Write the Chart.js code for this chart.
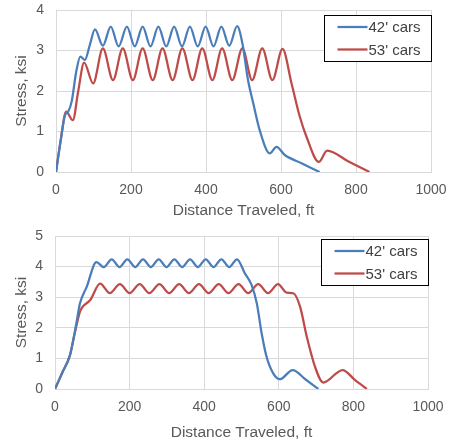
<!DOCTYPE html>
<html>
<head>
<meta charset="utf-8">
<script src="https://cdn.jsdelivr.net/npm/chart.js@4/dist/chart.umd.min.js"></script>
<style>
  body { margin: 0; background: #fff; }
  .wrap { position: absolute; left: 0; width: 454px; height: 222px; }
</style>
</head>
<body>
<div class="wrap" style="top:0"><canvas id="topChart" width="454" height="222"></canvas></div>
<div class="wrap" style="top:222px"><canvas id="bottomChart" width="454" height="222"></canvas></div>
<script>
// Top chart
const top42X = [0, 12, 24, 33, 42, 54, 65, 77, 90, 104, 125, 146, 167, 189, 210, 231, 252, 273, 294, 315, 336, 357, 378, 399, 420, 441, 462, 483, 497, 512, 526, 543, 570, 588, 610, 656, 703];
const top42Y = [0, 0.75, 1.4, 1.5, 1.75, 2.48, 2.85, 2.77, 3.13, 3.52, 3.12, 3.59, 3.1, 3.59, 3.1, 3.59, 3.1, 3.59, 3.1, 3.59, 3.1, 3.59, 3.1, 3.59, 3.1, 3.59, 3.12, 3.6, 3.18, 2.27, 1.7, 1.04, 0.46, 0.62, 0.42, 0.21, 0];
const top53X = [0, 12, 27, 45, 59, 75, 99, 125, 152, 178, 205, 231, 258, 284, 311, 337, 364, 390, 417, 443, 470, 497, 523, 550, 577, 604, 628, 650, 668, 701, 723, 780, 836];
const top53Y = [0, 0.75, 1.49, 1.28, 1.98, 2.7, 2.19, 3.05, 2.27, 3.05, 2.27, 3.05, 2.27, 3.05, 2.27, 3.05, 2.27, 3.05, 2.27, 3.05, 2.27, 3.05, 2.27, 3.05, 2.27, 3.04, 2.19, 1.37, 0.87, 0.25, 0.53, 0.26, 0];

// Bottom chart
const bot42X = [0, 20, 40, 49, 58, 67, 85, 111, 131, 152, 173, 194, 215, 236, 257, 278, 299, 320, 341, 362, 383, 404, 425, 446, 467, 488, 509, 527, 541, 554, 567, 585, 603, 637, 672, 706];
const bot42Y = [0, 0.55, 1.1, 1.6, 2.2, 2.8, 3.34, 4.15, 3.98, 4.24, 3.98, 4.24, 3.98, 4.24, 3.98, 4.24, 3.98, 4.24, 3.98, 4.24, 3.98, 4.24, 3.98, 4.24, 3.98, 4.24, 3.78, 3.4, 2.8, 1.82, 1.06, 0.51, 0.32, 0.62, 0.31, 0];
const bot53X = [0, 20, 40, 49, 58, 67, 75, 94, 121, 147, 174, 200, 227, 253, 280, 306, 333, 359, 386, 412, 439, 465, 492, 518, 545, 571, 598, 621, 639, 657, 675, 697, 719, 771, 803, 836];
const bot53Y = [0, 0.55, 1.1, 1.6, 2.1, 2.53, 2.7, 2.9, 3.44, 3.13, 3.43, 3.13, 3.43, 3.13, 3.43, 3.13, 3.43, 3.13, 3.43, 3.13, 3.43, 3.13, 3.43, 3.13, 3.43, 3.13, 3.43, 3.15, 3.13, 2.69, 1.71, 0.73, 0.21, 0.62, 0.31, 0];

const seriesLabels = ["42' cars", "53' cars"];
const xTicks = [0, 200, 400, 600, 800, 1000];

const FONT = "'Liberation Sans', Arial, sans-serif";
const BLUE = "#4a7ebb";
const RED = "#be4b48";
const GRID = "#d9d9d9";
const TEXT = "#595959";

function toPoints(xs, ys) {
  return xs.map((x, i) => ({ x: x, y: ys[i] }));
}

// legend drawn as a boxed overlay inside the plot, like the original
const boxLegend = {
  id: "boxLegend",
  afterDraw(chart, args, opts) {
    const ctx = chart.ctx;
    const area = chart.chartArea;
    const left = Math.round(area.right - opts.width) + 0.5;
    const top = Math.round(area.top + opts.offsetY) + 0.5;
    ctx.save();
    ctx.fillStyle = "#fff";
    ctx.fillRect(left, top, opts.width, opts.height);
    ctx.strokeStyle = "#000";
    ctx.lineWidth = 1;
    ctx.strokeRect(left, top, opts.width, opts.height);
    ctx.font = "15px " + FONT;
    ctx.textBaseline = "middle";
    chart.data.datasets.forEach((ds, i) => {
      const y = top + 11.5 + i * 22.5;
      ctx.strokeStyle = ds.borderColor;
      ctx.lineWidth = 2.25;
      ctx.beginPath();
      ctx.moveTo(left + 13, y);
      ctx.lineTo(left + 43, y);
      ctx.stroke();
      ctx.fillStyle = "#404040";
      ctx.fillText(ds.label, left + 44, y + 1);
    });
    ctx.restore();
  },
};

function makeChart(id, d42, d53, yMax, pad, yWidth, xHeight, legendOffset) {
  const ctx = document.getElementById(id).getContext("2d");
  return new Chart(ctx, {
    type: "line",
    data: {
      datasets: [
        {
          label: seriesLabels[0],
          data: d42,
          borderColor: BLUE,
          borderWidth: 2.25,
          pointRadius: 0,
          cubicInterpolationMode: "monotone",
        },
        {
          label: seriesLabels[1],
          data: d53,
          borderColor: RED,
          borderWidth: 2.25,
          pointRadius: 0,
          cubicInterpolationMode: "monotone",
        },
      ],
    },
    options: {
      responsive: false,
      animation: false,
      layout: { padding: pad },
      plugins: {
        legend: { display: false },
        tooltip: { enabled: false },
        boxLegend: { width: 107, height: 46, offsetY: legendOffset },
      },
      scales: {
        x: {
          type: "linear",
          min: 0,
          max: 1000,
          afterBuildTicks: (scale) => {
            scale.ticks = xTicks.map((v) => ({ value: v }));
          },
          afterFit: (scale) => {
            scale.height = xHeight;
            scale.paddingLeft = 0;
            scale.paddingRight = 0;
          },
          grid: { color: GRID, drawTicks: false },
          border: { color: GRID },
          ticks: {
            color: TEXT,
            font: { family: FONT, size: 14 },
            padding: 10,
            maxRotation: 0,
            callback: (v) => String(v),
          },
          title: {
            display: true,
            text: "Distance Traveled, ft",
            color: TEXT,
            font: { family: FONT, size: 15.5 },
            padding: { top: 1.5, bottom: 1.5 },
          },
        },
        y: {
          min: 0,
          max: yMax,
          ticks: {
            stepSize: 1,
            color: TEXT,
            font: { family: FONT, size: 14 },
            padding: 12,
            callback: (v) => String(v),
          },
          afterFit: (scale) => {
            scale.width = yWidth;
            scale.paddingTop = 0;
            scale.paddingBottom = 0;
          },
          grid: { color: GRID, drawTicks: false },
          border: { color: GRID },
          title: {
            display: true,
            text: "Stress, ksi",
            color: TEXT,
            font: { family: FONT, size: 15.5 },
            padding: { top: 12.5, bottom: 12.5 },
          },
        },
      },
    },
    plugins: [boxLegend],
  });
}

makeChart("topChart", toPoints(top42X, top42Y), toPoints(top53X, top53Y), 4,
  { left: 0, right: 23, top: 10, bottom: 0 }, 56, 50, 5);
makeChart("bottomChart", toPoints(bot42X, bot42Y), toPoints(bot53X, bot53Y), 5,
  { left: 0, right: 26, top: 14, bottom: 0 }, 55, 55, 3);
</script>
</body>
</html>
